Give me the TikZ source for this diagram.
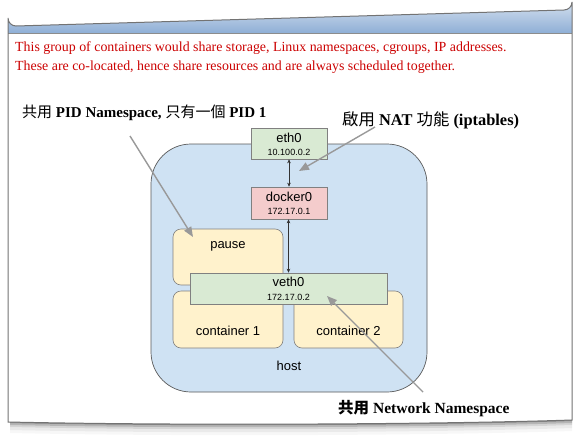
\documentclass[tikz,border=0pt]{standalone}
\usepackage{fontspec}
\setmainfont{Liberation Serif}
\newfontfamily\cjk{Noto Sans CJK TC}
\newfontfamily\arialf{Liberation Sans}
\usetikzlibrary{arrows.meta}
\definecolor{hostfill}{HTML}{CFE2F3}
\definecolor{greenfill}{HTML}{D9EAD3}
\definecolor{pinkfill}{HTML}{F4CCCC}
\definecolor{yellowfill}{HTML}{FFF2CC}
\definecolor{redtext}{HTML}{CC0000}
\definecolor{pointer}{HTML}{999999}
\definecolor{barTop}{HTML}{D3DFEE}
\definecolor{barBot}{HTML}{8FAFD6}
\tikzset{
  x=1pt,y=-1pt,
  netbox/.style={draw=black!50, line width=0.6pt, inner sep=0pt, align=center, font=\arialf\fontsize{13}{14}\selectfont},
  ctbox/.style={draw=black!50, line width=0.6pt, fill=yellowfill, rounded corners=8pt, inner sep=0pt},
  boxlabel/.style={font=\arialf\fontsize{13}{14}\selectfont, inner sep=0pt},
  iplabel/.style={font=\arialf\fontsize{9}{10}\selectfont, inner sep=0pt},
  pointerarrow/.style={draw=pointer, line width=1.4pt, -{Triangle[length=10pt,width=8pt]}},
  link/.style={draw=black!80, line width=0.5pt, {Stealth[length=4pt,width=3.5pt]}-{Stealth[length=4pt,width=3.5pt]}},
  note/.style={font=\bfseries\fontsize{15}{17}\selectfont, inner sep=0pt, anchor=base west},
  redline/.style={font=\fontsize{13.9}{16}\selectfont, text=redtext, inner sep=0pt, anchor=base west}
}
\begin{document}
\begin{tikzpicture}
\useasboundingbox (0,0) rectangle (580,439);
% window shadow
\foreach \d/\o in {1/0.25,3/0.15,5/0.09,8/0.05,11/0.03}{
  \fill[black,opacity=\o] (10,422+\d) .. controls (200,426+\d) and (450,424+\d) .. (572,420+\d) -- (572,420) .. controls (450,424) and (200,426) .. (10,422) -- cycle;
}
% window
\fill[white] (8,422) -- (8,18) arc[start angle=180,end angle=90,radius=8] -- (564,10) arc[start angle=90,end angle=0,radius=8] -- (572,420) .. controls (450,424) and (200,426) .. (8,422) -- cycle;
\shade[top color=barTop,bottom color=barBot] (8,33) -- (8,18) arc[start angle=180,end angle=90,radius=8] -- (564,10) arc[start angle=90,end angle=0,radius=8] -- (572,33) -- cycle;
\draw[black!45, line width=0.6pt] (8,33) -- (572,33);
\draw[black!55, line width=1pt] (8,422) -- (8,18) arc[start angle=180,end angle=90,radius=8] -- (564,10) arc[start angle=90,end angle=0,radius=8] -- (572,420) .. controls (450,424) and (200,426) .. (8,422) -- cycle;

% red text
\node[redline] (red1) at (15,51) {This group of containers would share storage, Linux namespaces, cgroups, IP addresses.};
\node[redline] (red2) at (15,70.5) {These are co-located, hence share resources and are always scheduled together.};

% host
\draw[black!65, line width=0.7pt, fill=hostfill, rounded corners=40pt] (151,144) rectangle (427,392);
\node[boxlabel] (hostlbl) at (289,366) {host};

% eth0 / docker0
\node[netbox, fill=greenfill, minimum width=76pt, minimum height=31pt] (eth0) at (289,143.5) {};
\node[boxlabel] (eth0t) at (289,138) {eth0};
\node[iplabel] (eth0ip) at (289,152) {10.100.0.2};
\node[netbox, fill=pinkfill, minimum width=76pt, minimum height=32pt] (docker0) at (289,203) {};
\node[boxlabel] (docker0t) at (289,197) {docker0};
\node[iplabel] (docker0ip) at (289,211.5) {172.17.0.1};

% containers
\node[ctbox, minimum width=110pt, minimum height=56pt] (pause) at (228,257) {};
\node[boxlabel] (pauset) at (228,246) {pause};
\node[ctbox, minimum width=110pt, minimum height=57pt] (c1) at (228,319.5) {};
\node[boxlabel] (c1t) at (228,331) {container 1};
\node[ctbox, minimum width=109pt, minimum height=57pt] (c2) at (348.5,319.5) {};
\node[boxlabel] (c2t) at (348.5,331) {container 2};

% veth0
\node[netbox, fill=greenfill, minimum width=197pt, minimum height=31pt] (veth0) at (288.5,288.5) {};
\node[boxlabel] (veth0t) at (288.5,282) {veth0};
\node[iplabel] (veth0ip) at (288.5,297) {172.17.0.2};

% links
\draw[link] (eth0.south) -- (docker0.north);
\draw[link] (docker0.south -| 288.5,0) -- (veth0.north);

% notes
\node[note] (pidnote) at (22,117) {{\cjk\mdseries 共用} PID Namespace, {\cjk\mdseries 只有一個} PID 1};
\node[note, font=\bfseries\fontsize{16.4}{18}\selectfont] (natnote) at (342,125) {{\cjk\mdseries 啟用} NAT {\cjk\mdseries 功能} (iptables)};
\node[note, font=\bfseries\fontsize{15.5}{17}\selectfont] (netnote) at (338,413.5) {{\cjk\bfseries 共用} Network Namespace};

% pointer arrows
\coordinate (p1s) at (130,136);
\coordinate (p1e) at (193,237);
\coordinate (p2s) at (375,127);
\coordinate (p2e) at (299,171);
\coordinate (p3s) at (423,392);
\coordinate (p3e) at (327,296);
\draw[pointerarrow] (p1s) -- (p1e);
\draw[pointerarrow] (p2s) -- (p2e);
\draw[pointerarrow] (p3s) -- (p3e);
\end{tikzpicture}
\end{document}
